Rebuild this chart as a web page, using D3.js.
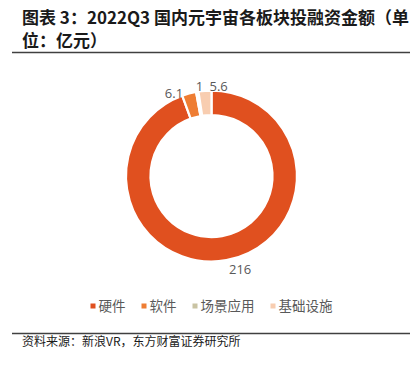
<!DOCTYPE html>
<html>
<head>
<meta charset="utf-8">
<script src="https://cdn.jsdelivr.net/npm/d3@7"></script>
<style>
  body { margin: 0; background: #fff; }
  svg { display: block; font-family: "Noto Sans CJK SC", sans-serif; }
</style>
</head>
<body>
<div id="chart"></div>
<script>
// data
const categories = ['硬件', '软件', '场景应用', '基础设施'];
const amounts = [216, 6.1, 1, 5.6];
const valueLabels = ['216', '6.1', '1', '5.6'];
const colors = ['#E0501F', '#EE7D33', '#C9C3A3', '#F8CDB0'];
// small label nudges (px) like the original hand-placed labels
const labelNudge = [[13, 5], [-14, 4], [3, -1], [14, 0]];

const width = 416, height = 365;
const cx = 211.5, cy = 176;
const outerR = 85.5, innerR = 61, labelR = 90;

const svg = d3.select('#chart').append('svg')
  .attr('width', width)
  .attr('height', height);

// title
const title = svg.append('g').attr('class', 'title')
  .attr('font-size', 17).attr('font-weight', 'bold').attr('fill', '#1a1a1a');
title.append('text').attr('x', 22).attr('y', 23.5)
  .text('图表 3：2022Q3 国内元宇宙各板块投融资金额（单');
title.append('text').attr('x', 22).attr('y', 46.5)
  .text('位：亿元）');

svg.append('line')
  .attr('x1', 12).attr('x2', 410).attr('y1', 52.5).attr('y2', 52.5)
  .attr('stroke', '#404040').attr('stroke-width', 1.5);

// donut
const pie = d3.pie().sort(null).value(d => d);
const arcs = pie(amounts);
const arc = d3.arc().innerRadius(innerR).outerRadius(outerR);

const g = svg.append('g').attr('transform', `translate(${cx},${cy})`);

g.selectAll('path.slice')
  .data(arcs)
  .join('path')
  .attr('class', 'slice')
  .attr('d', arc)
  .attr('fill', (d, i) => colors[i])
  .attr('stroke', '#fff')
  .attr('stroke-width', 2.25)
  .attr('stroke-linejoin', 'miter');

const labelArc = d3.arc().innerRadius(labelR).outerRadius(labelR);
g.selectAll('text.val')
  .data(arcs)
  .join('text')
  .attr('class', 'val')
  .attr('x', (d, i) => labelArc.centroid(d)[0] + labelNudge[i][0])
  .attr('y', (d, i) => labelArc.centroid(d)[1] + labelNudge[i][1])
  .attr('text-anchor', 'middle')
  .attr('dy', '0.35em')
  .attr('font-family', '"Open Sans", "Liberation Sans", sans-serif')
  .attr('font-size', 13)
  .attr('fill', '#595959')
  .text((d, i) => valueLabels[i]);

// legend
const legend = svg.append('g').attr('class', 'legend');
let lx = 90.5;
categories.forEach((c, i) => {
  const item = legend.append('g').attr('transform', `translate(${lx},0)`);
  item.append('rect')
    .attr('x', 0).attr('y', 303.5).attr('width', 5).attr('height', 5)
    .attr('fill', colors[i]);
  const t = item.append('text')
    .attr('x', 8).attr('y', 311)
    .attr('font-size', 13.5)
    .attr('fill', '#595959')
    .text(c);
  lx += 8 + t.node().getComputedTextLength() + 16;
});

// footer
svg.append('line')
  .attr('x1', 12).attr('x2', 410).attr('y1', 333.5).attr('y2', 333.5)
  .attr('stroke', '#404040').attr('stroke-width', 1.5);

svg.append('text')
  .attr('x', 22).attr('y', 345.5)
  .attr('font-size', 12)
  .attr('fill', '#1a1a1a')
  .text('资料来源：新浪VR，东方财富证券研究所');
</script>
</body>
</html>
